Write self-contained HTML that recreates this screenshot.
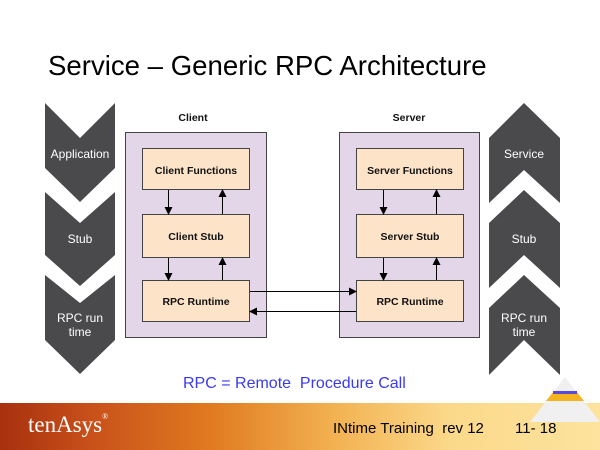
<!DOCTYPE html>
<html><head><style>
body{margin:0;width:600px;height:450px;overflow:hidden;background:#fff;font-family:"Liberation Sans",sans-serif;position:relative}
.abs{position:absolute}
</style></head><body>
<div class="abs" style="left:0;top:403px;width:600px;height:47px;background:linear-gradient(90deg,#a8300e 0%,#c8501a 15%,#e07a20 35%,#f2b050 55%,#fbd98a 75%,#fde39e 100%)"></div>
<div class="abs" style="left:28px;top:412px;font-family:'Liberation Sans Narrow','Liberation Serif',serif;font-size:23px;color:#fff">tenAsys<span style="font-size:8px;vertical-align:top">®</span></div>
<div class="abs" style="left:333px;top:420px;font-size:15px;color:#000">INtime Training&nbsp; rev 12</div>
<div class="abs" style="left:515px;top:420px;font-size:15px;color:#000">11- 18</div>
<div class="abs" style="left:48px;top:50px;font-size:27.6px;color:#000">Service – Generic RPC Architecture</div>
<div class="abs" style="left:183px;top:375px;font-size:16px;color:#3a3aee">RPC = Remote&nbsp; Procedure Call</div>
<svg class="abs" style="left:0;top:0" width="600" height="450">
<defs><marker id="a" markerWidth="8" markerHeight="8" refX="7" refY="4" orient="auto" markerUnits="userSpaceOnUse"><path d="M0,0L8,4L0,8z" fill="#000"/></marker></defs>
<g fill="#4a4a4c">
<polygon points="45,103 80,138 115,103 115,168 80,202 45,168"/>
<polygon points="45,192 80,223 115,192 115,255 80,286 45,255"/>
<polygon points="45,275 80,303 115,275 115,340 80,374 45,340"/>
<polygon points="524,103 560,138 560,203 524,170 489,203 489,138"/>
<polygon points="524,190 560,223 560,288 524,255 489,288 489,223"/>
<polygon points="524,275 560,308 560,375 524,340 489,375 489,308"/>
</g>
<g font-size="12" fill="#fff" text-anchor="middle">
<text x="80" y="158">Application</text><text x="80" y="243">Stub</text>
<text x="80" y="322">RPC run</text><text x="80" y="336">time</text>
<text x="524" y="158">Service</text><text x="524" y="243">Stub</text>
<text x="524" y="322">RPC run</text><text x="524" y="336">time</text>
</g>
<polygon points="565,377 600,422 530,422" fill="#f0f0f0"/>
<polygon points="554,391 576,391 584,401 546,401" fill="#f5b41e"/>
<rect x="553" y="391" width="24" height="3" fill="#5a4ad8"/>
<g font-size="10.5" font-weight="bold" fill="#111" text-anchor="middle"><text x="193" y="121">Client</text><text x="409" y="121">Server</text></g>
<rect x="125.5" y="132.5" width="141" height="205" fill="#e2d6e8" stroke="#444"/>
<rect x="339.5" y="132.5" width="140" height="205" fill="#e2d6e8" stroke="#444"/>
<g fill="#fde3c8" stroke="#444">
<rect x="142.5" y="148.5" width="107" height="41"/><rect x="142.5" y="214.5" width="107" height="43"/><rect x="142.5" y="280.5" width="107" height="41"/>
<rect x="356.5" y="148.5" width="107" height="41"/><rect x="356.5" y="214.5" width="107" height="43"/><rect x="356.5" y="280.5" width="107" height="41"/>
</g>
<g font-size="10.5" font-weight="bold" fill="#111" text-anchor="middle">
<text x="196" y="174">Client Functions</text><text x="196" y="240">Client Stub</text><text x="196" y="305">RPC Runtime</text>
<text x="410" y="174">Server Functions</text><text x="410" y="240">Server Stub</text><text x="410" y="305">RPC Runtime</text>
</g>
<g stroke="#000" stroke-width="1" marker-end="url(#a)">
<line x1="168.5" y1="190" x2="168.5" y2="214"/><line x1="222.5" y1="214" x2="222.5" y2="190"/>
<line x1="168.5" y1="258" x2="168.5" y2="280"/><line x1="222.5" y1="280" x2="222.5" y2="258"/>
<line x1="383.5" y1="190" x2="383.5" y2="214"/><line x1="436.5" y1="214" x2="436.5" y2="190"/>
<line x1="383.5" y1="258" x2="383.5" y2="280"/><line x1="436.5" y1="280" x2="436.5" y2="258"/>
<line x1="250" y1="291.5" x2="356" y2="291.5"/><line x1="356" y1="311.5" x2="250" y2="311.5"/>
</g>
</svg>
</body></html>
